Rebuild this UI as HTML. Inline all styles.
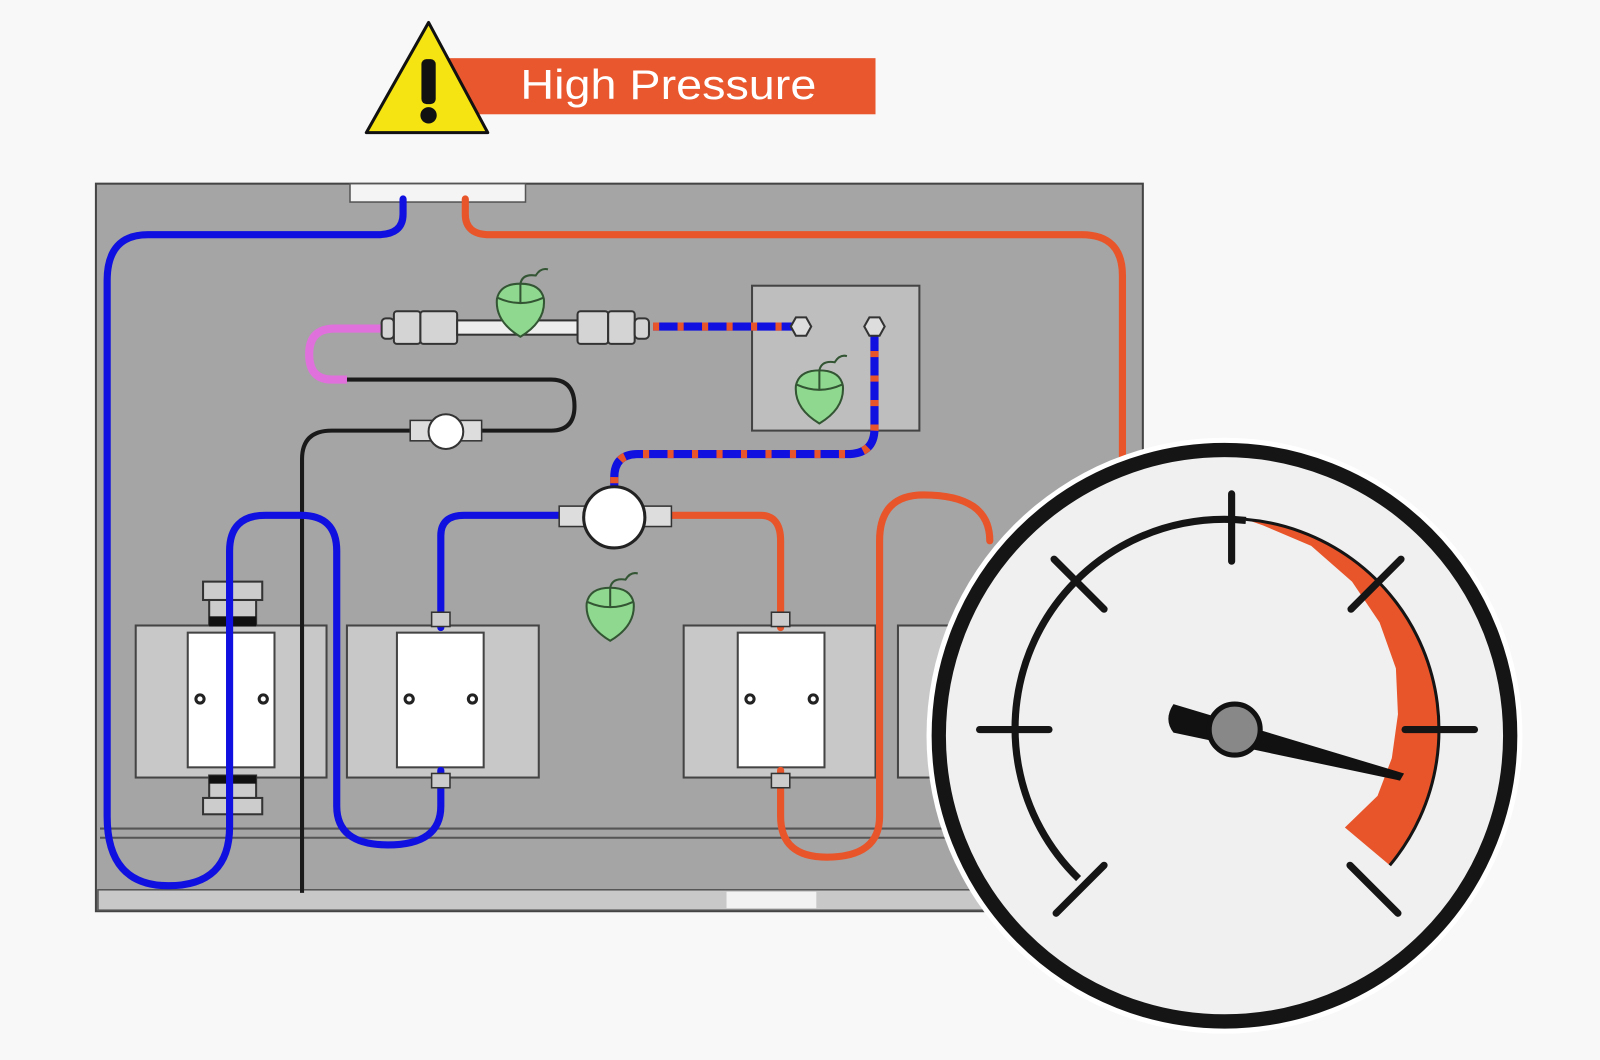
<!DOCTYPE html>
<html><head><meta charset="utf-8"><style>
html,body{margin:0;padding:0;background:#f8f8f8;}
svg{display:block}
</style></head><body>
<svg width="1600" height="1060" viewBox="0 0 1600 1060" xmlns="http://www.w3.org/2000/svg">
<rect width="1600" height="1060" fill="#f8f8f8"/>
<g transform="scale(1.0204)">
<!-- warning -->
<rect x="440" y="57" width="418" height="55" fill="#e8572d"/>
<text x="655" y="97" font-family="Liberation Sans, sans-serif" font-size="41" fill="#fff" text-anchor="middle" textLength="290" lengthAdjust="spacingAndGlyphs">High Pressure</text>
<polygon points="420,22 359,130 478,130" fill="#f5e412" stroke="#111" stroke-width="3" stroke-linejoin="round"/>
<rect x="413" y="58" width="14" height="44" rx="5" fill="#111"/>
<circle cx="420" cy="113" r="8" fill="#111"/>

<!-- panel -->
<rect x="94" y="180" width="1026" height="713" fill="#a5a5a5" stroke="#444" stroke-width="2"/>
<rect x="343" y="180" width="172" height="18" fill="#f4f4f4" stroke="#555" stroke-width="1.5"/>
<line x1="98" y1="812" x2="1118" y2="812" stroke="#555" stroke-width="2"/>
<line x1="98" y1="821" x2="1118" y2="821" stroke="#555" stroke-width="2"/>
<rect x="96" y="872" width="1022" height="20" fill="#c8c8c8" stroke="#555" stroke-width="1.5"/>
<rect x="712" y="874" width="88" height="16" fill="#f2f2f2"/>

<!-- blocks -->
<g stroke="#444" stroke-width="2">
<rect x="133" y="613" width="187" height="149" fill="#c8c8c8"/>
<rect x="340" y="613" width="188" height="149" fill="#c8c8c8"/>
<rect x="670" y="613" width="188" height="149" fill="#c8c8c8"/>
<rect x="880" y="613" width="120" height="149" fill="#c8c8c8"/>
<rect x="184" y="620" width="85" height="132" fill="#fff"/>
<rect x="389" y="620" width="85" height="132" fill="#fff"/>
<rect x="723" y="620" width="85" height="132" fill="#fff"/>
</g>
<g fill="none" stroke="#222" stroke-width="3">
<circle cx="196" cy="685" r="4"/><circle cx="258" cy="685" r="4"/>
<circle cx="401" cy="685" r="4"/><circle cx="463" cy="685" r="4"/>
<circle cx="735" cy="685" r="4"/><circle cx="797" cy="685" r="4"/>
</g>
<g fill="#ccc" stroke="#333" stroke-width="2">
<rect x="199" y="570" width="58" height="18"/><rect x="205" y="588" width="46" height="24"/>
<rect x="205" y="760" width="46" height="22"/><rect x="199" y="782" width="58" height="16"/>
</g>
<rect x="205" y="604" width="46" height="10" fill="#111"/>
<rect x="205" y="760" width="46" height="8" fill="#111"/>

<!-- right box -->
<rect x="737" y="280" width="164" height="142" fill="#bebebe" stroke="#444" stroke-width="2"/>

<path d="M296,875 L296,450 Q296,422 325,422 L540,422 Q563,422 563,398 Q563,372 540,372 L340,372" fill="none" stroke="#1a1a1a" stroke-width="4"/>
<path d="M340,372 L325,372 Q303,372 303,347 Q303,322 328,322 L380,322" fill="none" stroke="#e070dc" stroke-width="8"/>
<rect x="402" y="412" width="70" height="20" fill="#ddd" stroke="#333" stroke-width="1.5"/>
<circle cx="437" cy="423" r="17" fill="#fff" stroke="#333" stroke-width="2"/>
<g fill="#d4d4d4" stroke="#333" stroke-width="2">
<rect x="374" y="312" width="12" height="20" rx="4"/>
<rect x="386" y="305" width="26" height="32" rx="3"/>
<rect x="412" y="305" width="36" height="32" rx="3"/>
<rect x="448" y="314" width="118" height="14" fill="#eee"/>
<rect x="566" y="305" width="30" height="32" rx="3"/>
<rect x="596" y="305" width="26" height="32" rx="3"/>
<rect x="622" y="312" width="14" height="20" rx="4"/>
</g>

<g fill="none" stroke="#1010e0" stroke-width="7" stroke-linecap="round">
<path d="M395,195 L395,210 Q395,230 370,230 L145,230 Q105,230 105,275 L105,800 Q105,868 165,868 Q225,868 225,810 L225,540 Q225,505 260,505 L295,505 Q330,505 330,540 L330,790 Q330,828 380,828 Q432,828 432,790 L432,755"/>
<path d="M432,615 L432,525 Q432,505 455,505 L572,505"/>
</g>
<g fill="none" stroke="#e8552a" stroke-width="7" stroke-linecap="round">
<path d="M456,195 L456,210 Q456,230 480,230 L1060,230 Q1100,230 1100,270 L1100,460"/>
<path d="M632,505 L745,505 Q765,505 765,530 L765,615"/>
<path d="M765,755 L765,800 Q765,840 810,840 Q862,840 862,800 L862,530 Q862,485 905,485 Q970,485 970,530"/>
</g>
<g fill="none" stroke-width="8">
<path d="M640,320 L785,320" stroke="#1010e0"/>
<path d="M640,320 L785,320" stroke="#e8552a" stroke-dasharray="6 18"/>
<path d="M857,320 L857,420 Q857,445 830,445 L625,445 Q602,445 602,468 L602,478" stroke="#1010e0"/>
<path d="M857,320 L857,420 Q857,445 830,445 L625,445 Q602,445 602,468 L602,478" stroke="#e8552a" stroke-dasharray="6 18"/>
</g>
<g fill="#ddd" stroke="#333" stroke-width="2">
<polygon points="775,320 780,311 790,311 795,320 790,329 780,329"/>
<polygon points="847,320 852,311 862,311 867,320 862,329 852,329"/>
</g>
<rect x="548" y="496" width="110" height="20" fill="#ddd" stroke="#333" stroke-width="1.5"/>
<circle cx="602" cy="507" r="30" fill="#fff" stroke="#222" stroke-width="3"/>
<g fill="#ccc" stroke="#333" stroke-width="1.5">
<rect x="423" y="600" width="18" height="14"/><rect x="423" y="758" width="18" height="14"/>
<rect x="756" y="600" width="18" height="14"/><rect x="756" y="758" width="18" height="14"/>
</g>

<g fill="#8fd88f" stroke="#335533" stroke-width="2">
<g><path d="M510,330 Q485,315 487,293 Q490,278 510,278 Q530,278 533,293 Q535,315 510,330Z"/><path d="M488,292 Q510,302 532,292" fill="none"/><path d="M510,278 L510,297 M510,278 Q512,268 525,270 Q530,262 537,264" fill="none"/></g>
<g><path d="M803,415 Q778,400 780,378 Q783,363 803,363 Q823,363 826,378 Q828,400 803,415Z"/><path d="M781,377 Q803,387 825,377" fill="none"/><path d="M803,363 L803,382 M803,363 Q805,353 818,355 Q823,347 830,349" fill="none"/></g>
<g><path d="M598,628 Q573,613 575,591 Q578,576 598,576 Q618,576 621,591 Q623,613 598,628Z"/><path d="M576,590 Q598,600 620,590" fill="none"/><path d="M598,576 L598,595 M598,576 Q600,566 613,568 Q618,560 625,562" fill="none"/></g>
</g>

<!-- gauge -->
<circle cx="1200" cy="721" r="292" fill="#fff"/>
<circle cx="1200" cy="721" r="280" fill="#f0f0f0" stroke="#151515" stroke-width="14"/>
<path d="M1057,861 A205,205 0 0,1 1221,510" fill="none" stroke="#151515" stroke-width="7"/>
<path d="M1221,509 A207,207 0 0,1 1362,848 L1318,811 L1350,780 L1364,743 L1370,700 L1368,655 L1352,610 L1325,570 L1285,535 L1238,515 Z" fill="#e8552a"/>
<path d="M1221,509 A207,207 0 0,1 1362,848" fill="none" stroke="#151515" stroke-width="3"/>
<g stroke="#151515" stroke-width="7" stroke-linecap="round">
<line x1="1207" y1="484" x2="1207" y2="550"/>
<line x1="960" y1="715" x2="1028" y2="715"/>
<line x1="1377" y1="715" x2="1445" y2="715"/>
<line x1="1033" y1="548" x2="1082" y2="597"/>
<line x1="1373" y1="548" x2="1324" y2="597"/>
<line x1="1035" y1="895" x2="1082" y2="848"/>
<line x1="1370" y1="895" x2="1323" y2="848"/>
</g>
<path d="M1150,690 Q1140,705 1150,718 L1372,765 L1376,758 Z" fill="#111"/>
<circle cx="1210" cy="715" r="25" fill="#888" stroke="#111" stroke-width="5"/>
</g>
</svg>
</body></html>
